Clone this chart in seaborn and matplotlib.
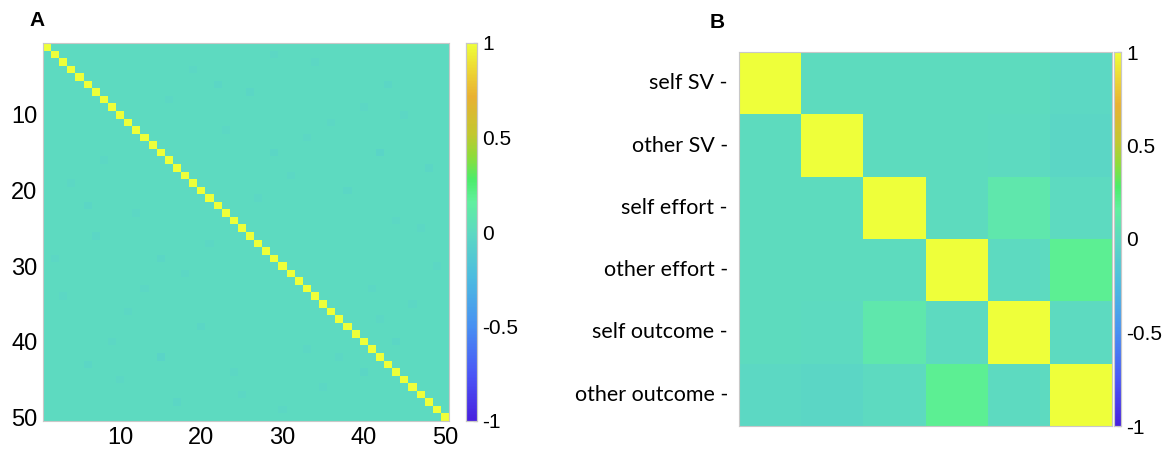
import numpy as np
import pandas as pd
import seaborn as sns
import matplotlib
matplotlib.use("Agg")
import matplotlib.pyplot as plt
from matplotlib.colors import LinearSegmentedColormap

# ---------------- data ----------------
# Panel A: 50 x 50 correlation matrix (identity with faint off-diagonal structure)
n_items = 50
offdiag_base = 0.0
# (row, col, r) for the few off-diagonal cells that stand out slightly (1-based)
faint_cells = [
    (6, 22, -0.03), (7, 26, -0.03), (6, 43, -0.04), (15, 29, -0.03),
    (15, 42, -0.04), (20, 38, -0.03), (18, 31, -0.02), (17, 48, -0.03),
    (12, 23, -0.02), (40, 44, -0.03), (29, 15, -0.03), (43, 6, -0.03),
    (48, 17, -0.03), (10, 45, -0.02), (3, 34, -0.02), (9, 40, -0.02),
    (25, 47, -0.02), (33, 41, -0.02), (4, 19, -0.02), (11, 36, -0.02),
    (21, 27, -0.02), (24, 44, -0.02), (35, 46, -0.02), (13, 33, -0.02),
    (2, 29, -0.02), (8, 16, -0.02), (30, 49, -0.02), (37, 42, -0.02),
]
tick_labels_a = [10, 20, 30, 40, 50]

# Panel B: correlations between six regressors
labels_b = ["self SV", "other SV", "self effort", "other effort",
            "self outcome", "other outcome"]
corr_b = [
    [1.00,  0.01,  0.01,  0.01,  0.01, -0.01],
    [0.01,  1.00,  0.01,  0.01,  0.00, -0.03],
    [0.01,  0.01,  1.00,  0.01,  0.10,  0.00],
    [0.01,  0.01,  0.01,  1.00,  0.00,  0.18],
    [0.01,  0.00,  0.10,  0.00,  1.00,  0.00],
    [-0.01, -0.03, 0.00,  0.18,  0.00,  1.00],
]
cbar_ticks = [-1, -0.5, 0, 0.5, 1]
cbar_tick_labels = ["-1", "-0.5", "0", "0.5", "1"]

# ---------------- build matrices ----------------
mat_a = np.full((n_items, n_items), offdiag_base)
for r, c, v in faint_cells:
    mat_a[r - 1, c - 1] = v
    mat_a[c - 1, r - 1] = v
np.fill_diagonal(mat_a, 1.0)
df_a = pd.DataFrame(mat_a, index=range(1, n_items + 1), columns=range(1, n_items + 1))
df_b = pd.DataFrame(corr_b, index=labels_b, columns=labels_b)

# parula-like colour map
cmap = LinearSegmentedColormap.from_list("parula_like", [
    (0.00, "#4820DE"),
    (0.12, "#4A55F6"),
    (0.25, "#4890F2"),
    (0.38, "#4CBCE0"),
    (0.50, "#5DD9C1"),
    (0.58, "#60F09E"),
    (0.64, "#4CEC6A"),
    (0.70, "#8EDC3A"),
    (0.76, "#C2C830"),
    (0.86, "#E9B132"),
    (0.94, "#EEDC34"),
    (1.00, "#EEFF3A"),
])

sns.set_theme(style="white")
plt.rcParams["font.family"] = ["Liberation Sans", "DejaVu Sans"]
plt.rcParams["text.color"] = "black"
plt.rcParams["xtick.color"] = "black"
plt.rcParams["ytick.color"] = "black"

W, H = 1172, 454
fig = plt.figure(figsize=(W / 100, H / 100), dpi=100)


def box(l, t, r, b):
    return [l / W, 1 - b / H, (r - l) / W, (b - t) / H]


frame_col = "#c8c8c8"
tick_col = "#555555"

# ---------------- panel A ----------------
ax_a = fig.add_axes(box(43, 43, 449, 421))
cax_a = fig.add_axes(box(466, 43, 477, 421))
sns.heatmap(df_a, ax=ax_a, cmap=cmap, vmin=-1, vmax=1, cbar_ax=cax_a,
            xticklabels=False, yticklabels=False)
pos = [t - 0.5 for t in tick_labels_a]
ax_a.set_xticks(pos)
ax_a.set_xticklabels([str(t) for t in tick_labels_a], fontsize=17, color="black")
ax_a.set_yticks(pos)
ax_a.set_yticklabels([str(t) for t in tick_labels_a], fontsize=17, rotation=0,
                     color="black")
ax_a.tick_params(direction="in", length=4, width=0.8, color=tick_col,
                 top=True, right=True, bottom=True, left=True,
                 labeltop=False, labelright=False, pad=4)
for s in ax_a.spines.values():
    s.set_visible(True)
    s.set_color(frame_col)
    s.set_linewidth(0.8)
fig.text(37 / W, 1 - 21 / H, "A", fontsize=15, fontweight="bold",
         ha="center", va="center", color="black")

# ---------------- panel B ----------------
ax_b = fig.add_axes(box(739, 52, 1112, 426))
cax_b = fig.add_axes(box(1114, 52, 1121, 426))
sns.heatmap(df_b, ax=ax_b, cmap=cmap, vmin=-1, vmax=1, cbar_ax=cax_b,
            xticklabels=False, yticklabels=[l + " -" for l in labels_b])
ax_b.tick_params(axis="y", length=0, pad=8)
for lab in ax_b.get_yticklabels():
    lab.set_fontsize(15.5)
    lab.set_family(["Lato", "DejaVu Sans"])
    lab.set_rotation(0)
    lab.set_color("black")
for s in ax_b.spines.values():
    s.set_visible(True)
    s.set_color(frame_col)
    s.set_linewidth(0.8)
fig.text(717 / W, 1 - 22 / H, "B", fontsize=15, fontweight="bold",
         ha="center", va="center", color="black")

# ---------------- colour bars ----------------
for cax in (cax_a, cax_b):
    cax.set_yticks(cbar_ticks)
    cax.set_yticklabels(cbar_tick_labels, fontsize=15, color="black")
    cax.tick_params(direction="in", length=3, width=0.8, color=tick_col,
                    right=True, left=False, pad=4)
    for s in cax.spines.values():
        s.set_visible(True)
        s.set_color(frame_col)
        s.set_linewidth(0.8)

fig.savefig("out.png", dpi=100, facecolor="white")
